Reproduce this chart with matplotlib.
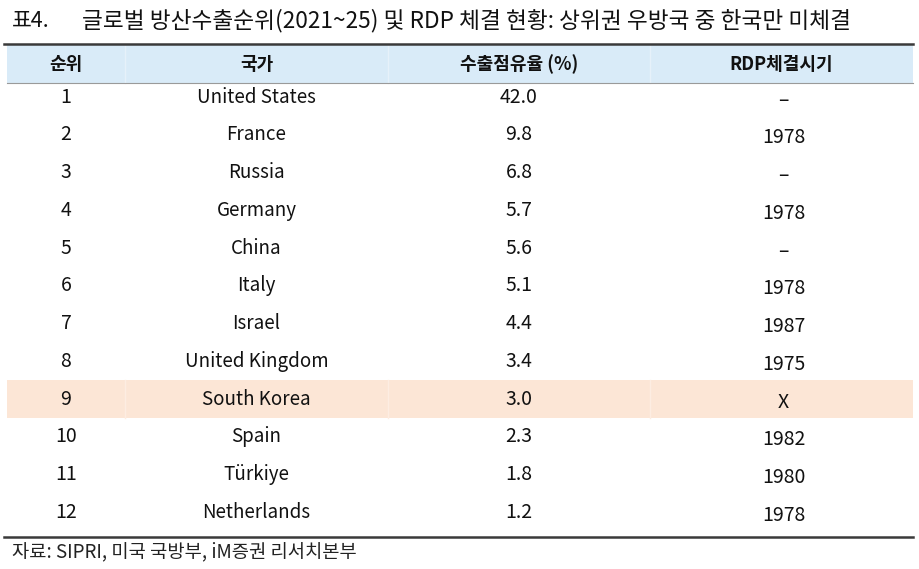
import matplotlib
matplotlib.use("Agg")
import matplotlib.pyplot as plt
from matplotlib.patches import Rectangle

plt.rcParams['font.family'] = ['Noto Sans CJK KR', 'DejaVu Sans']

title_no = "표4."
title = "글로벌 방산수출순위(2021~25) 및 RDP 체결 현황: 상위권 우방국 중 한국만 미체결"
headers = ["순위", "국가", "수출점유율 (%)", "RDP체결시기"]
ranks = [1, 2, 3, 4, 5, 6, 7, 8, 9, 10, 11, 12]
countries = ["United States", "France", "Russia", "Germany", "China", "Italy",
             "Israel", "United Kingdom", "South Korea", "Spain", "Türkiye", "Netherlands"]
shares = [42.0, 9.8, 6.8, 5.7, 5.6, 5.1, 4.4, 3.4, 3.0, 2.3, 1.8, 1.2]
rdp = ["–", "1978", "–", "1978", "–", "1978", "1987", "1975", "X", "1982", "1980", "1978"]
highlight = "South Korea"
source = "자료: SIPRI, 미국 국방부, iM증권 리서치본부"

W, H = 920, 569
fig = plt.figure(figsize=(W / 100, H / 100), dpi=100)
ax = fig.add_axes([0, 0, 1, 1])
ax.set_xlim(0, W)
ax.set_ylim(H, 0)
ax.axis('off')

col_edges = [7, 125, 388, 650, 913]
col_centers = [(a + b) / 2 for a, b in zip(col_edges[:-1], col_edges[1:])]
header_top, header_bot = 45, 83
row_h = 37.75
first_row = 97

# title
ax.text(12, 21, title_no, fontsize=15.5, va='center', ha='left', color='#111111')
ax.text(82, 21, title, fontsize=16.3, va='center', ha='left', color='#111111')

# header band
ax.add_patch(Rectangle((col_edges[0], header_top), col_edges[-1] - col_edges[0],
                       header_bot - header_top, facecolor='#D9EBF8', edgecolor='none'))
for x in col_edges[1:-1]:
    ax.plot([x, x], [header_top, header_bot], color='#E6F1FA', lw=1)
ax.plot([4, col_edges[-1]], [44, 44], color='#3A3A3A', lw=1.8)
ax.plot([col_edges[0], col_edges[-1]], [header_bot, header_bot], color='#9A9A9A', lw=0.8)

for cx, h in zip(col_centers, headers):
    ax.text(cx, (header_top + header_bot) / 2, h, fontsize=13, fontweight='bold',
            ha='center', va='center', color='#111111')

# rows
for i, (r, c, s, y) in enumerate(zip(ranks, countries, shares, rdp)):
    yc = first_row + i * row_h
    if c == highlight:
        ax.add_patch(Rectangle((col_edges[0], yc - row_h / 2), col_edges[-1] - col_edges[0],
                               row_h, facecolor='#FCE6D6', edgecolor='none'))
        for x in col_edges[1:-1]:
            ax.plot([x, x], [yc - row_h / 2, yc + row_h / 2], color='#FDEDE2', lw=1)
    ax.text(col_centers[0], yc, str(r), fontsize=14, ha='center', va='center', color='#111111')
    ax.text(col_centers[1], yc, c, fontsize=13.5, ha='center', va='center', color='#111111')
    ax.text(col_centers[2], yc, f"{s:.1f}", fontsize=14, ha='center', va='center', color='#111111')
    ax.text(col_centers[3] + 2, yc + 3, y, fontsize=14, ha='center', va='center', color='#111111')

ax.plot([4, col_edges[-1]], [537, 537], color='#3A3A3A', lw=1.8)
ax.text(12, 552, source, fontsize=13.5, ha='left', va='center', color='#222222')

fig.savefig("out.png", dpi=100)
